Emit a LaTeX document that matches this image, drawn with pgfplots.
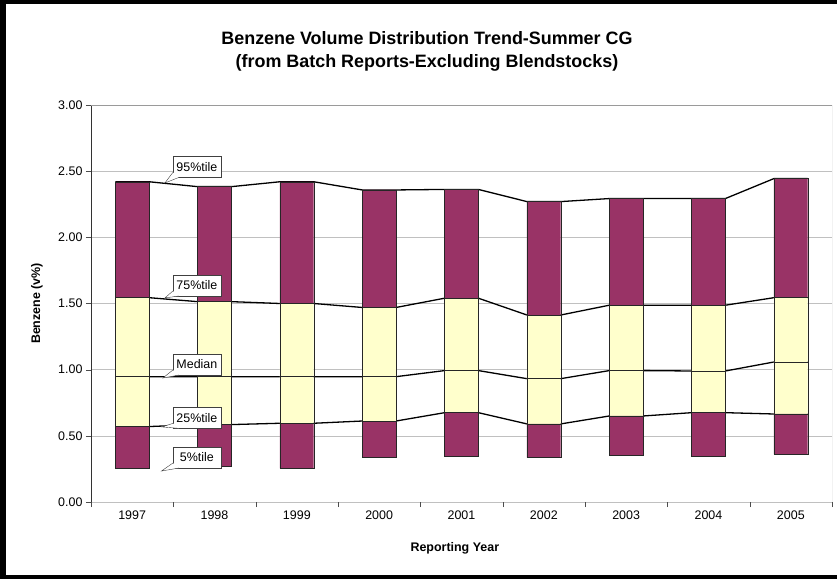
\documentclass[border=0pt]{standalone}
\usepackage{pgfplots}
\pgfplotsset{compat=1.18}
\usepackage{pgfplotstable}
\usepackage{fontspec}
\setmainfont{Liberation Sans}
\definecolor{plum}{HTML}{993366}
\definecolor{cream}{HTML}{FFFFCC}
\definecolor{gridgray}{HTML}{C0C0C0}

% percentiles of benzene (v%) by reporting year, x = category index
\pgfplotstableread{
x year p5 p25 med p75 p95
0 1997 0.255 0.570 0.947 1.544 2.420
1 1998 0.267 0.585 0.947 1.514 2.383
2 1999 0.255 0.595 0.947 1.500 2.420
3 2000 0.338 0.612 0.947 1.470 2.358
4 2001 0.343 0.675 0.993 1.540 2.362
5 2002 0.335 0.590 0.932 1.413 2.270
6 2003 0.353 0.650 0.993 1.487 2.293
7 2004 0.343 0.675 0.990 1.487 2.293
8 2005 0.360 0.665 1.058 1.544 2.444
}\benz

\tikzset{callout/.style={draw=black!75, fill=white, minimum width=48bp, minimum height=21bp,
  inner sep=1bp, font=\fontsize{12.5}{14}\selectfont}}
% callout box at coordinate #1 (box centre), tail to coordinate #2
\newcommand{\callout}[3]{%
  \node[callout] at (#1) {#3};
  \fill[white] ([xshift=-24bp,yshift=-5.5bp]#1) -- (#2) -- ([xshift=-18bp,yshift=-10.5bp]#1) -- cycle;
  \draw[black!75] ([xshift=-24bp,yshift=-5.5bp]#1) -- (#2) -- ([xshift=-18bp,yshift=-10.5bp]#1);
}

\begin{document}
\begin{tikzpicture}
\begin{axis}[
  scale only axis, width=741bp, height=397bp,
  xmin=-0.5, xmax=8.5, ymin=0, ymax=3,
  ybar stacked, bar width=0.41,
  xtick={0,...,8},
  xticklabels={1997,1998,1999,2000,2001,2002,2003,2004,2005},
  minor xtick={-0.5,0.5,...,8.5},
  ytick={0,0.5,...,3},
  xtick pos=bottom, ytick pos=left,
  yticklabel style={/pgf/number format/.cd,fixed,fixed zerofill,precision=2},
  /pgf/number format/assume math mode=true,
  tick label style={font=\fontsize{12.5}{14}\selectfont},
  tick align=outside,
  major tick length=5bp, minor tick length=5bp,
  major x tick style={draw=none},
  minor x tick style={draw=black!70},
  ytick style={draw=black!70},
  ymajorgrids, grid style={gridgray},
  axis line style={draw=none},
  title={Benzene Volume Distribution Trend-Summer CG\\(from Batch Reports-Excluding Blendstocks)},
  title style={at={(0.4534,1.1196)}, anchor=center, align=center,
    font=\bfseries\fontsize{18}{23}\selectfont},
  xlabel={Reporting Year},
  xlabel style={at={(0.491,-0.1159)}, anchor=center, font=\bfseries\fontsize{12.5}{14}\selectfont},
  ylabel={Benzene (v\%)},
  ylabel style={at={(-0.0729,0.5)}, anchor=center, font=\bfseries\fontsize{12.5}{14}\selectfont},
]
\draw[gridgray!80!black] (rel axis cs:0,1) -- (rel axis cs:1,1) -- (rel axis cs:1,0);
\draw[black!80] (rel axis cs:0,0) -- (rel axis cs:0,1);

\addplot[draw=none, fill=none] table[x=x, y=p5] {\benz};
\addplot[fill=plum, draw=black!85] table[x=x, y expr=\thisrow{p25}-\thisrow{p5}] {\benz};
\addplot[fill=cream, draw=black!85] table[x=x, y expr=\thisrow{med}-\thisrow{p25}] {\benz};
\addplot[fill=cream, draw=black!85] table[x=x, y expr=\thisrow{p75}-\thisrow{med}] {\benz};
\addplot[fill=plum, draw=black!85] table[x=x, y expr=\thisrow{p95}-\thisrow{p75}] {\benz};

% series lines, bar edge to bar edge
\addplot[sharp plot, stack plots=false, black, line width=1.3bp] coordinates {
(-0.205,2.420)(0.205,2.420)(0.795,2.383)(1.205,2.383)(1.795,2.420)(2.205,2.420)
(2.795,2.358)(3.205,2.358)(3.795,2.362)(4.205,2.362)(4.795,2.270)(5.205,2.270)
(5.795,2.293)(6.205,2.293)(6.795,2.293)(7.205,2.293)(7.795,2.444)(8.205,2.444)};
\addplot[sharp plot, stack plots=false, black, line width=1.3bp] coordinates {
(-0.205,1.544)(0.205,1.544)(0.795,1.514)(1.205,1.514)(1.795,1.500)(2.205,1.500)
(2.795,1.470)(3.205,1.470)(3.795,1.540)(4.205,1.540)(4.795,1.413)(5.205,1.413)
(5.795,1.487)(6.205,1.487)(6.795,1.487)(7.205,1.487)(7.795,1.544)(8.205,1.544)};
\addplot[sharp plot, stack plots=false, black, line width=1.3bp] coordinates {
(-0.205,0.947)(0.205,0.947)(0.795,0.947)(1.205,0.947)(1.795,0.947)(2.205,0.947)
(2.795,0.947)(3.205,0.947)(3.795,0.993)(4.205,0.993)(4.795,0.932)(5.205,0.932)
(5.795,0.993)(6.205,0.993)(6.795,0.990)(7.205,0.990)(7.795,1.058)(8.205,1.058)};
\addplot[sharp plot, stack plots=false, black, line width=1.3bp] coordinates {
(-0.205,0.570)(0.205,0.570)(0.795,0.585)(1.205,0.585)(1.795,0.595)(2.205,0.595)
(2.795,0.612)(3.205,0.612)(3.795,0.675)(4.205,0.675)(4.795,0.590)(5.205,0.590)
(5.795,0.650)(6.205,0.650)(6.795,0.675)(7.205,0.675)(7.795,0.665)(8.205,0.665)};

% callout anchors (box centre b*, tail tip t*)
\coordinate (b95) at (axis cs:0.786,2.532);  \coordinate (t95) at (axis cs:0.398,2.411);
\coordinate (b75) at (axis cs:0.786,1.636);  \coordinate (t75) at (axis cs:0.398,1.542);
\coordinate (bmd) at (axis cs:0.786,1.039);  \coordinate (tmd) at (axis cs:0.374,0.937);
\coordinate (b25) at (axis cs:0.786,0.636);  \coordinate (t25) at (axis cs:0.362,0.567);
\coordinate (b05) at (axis cs:0.786,0.336);  \coordinate (t05) at (axis cs:0.356,0.234);
\end{axis}
\callout{b95}{t95}{95\%tile}
\callout{b75}{t75}{75\%tile}
\callout{bmd}{tmd}{Median}
\callout{b25}{t25}{25\%tile}
\callout{b05}{t05}{5\%tile}
% chart frame (left, top, bottom edges)
\fill[black] (-91bp,-77bp) rectangle (-85bp,502bp);
\fill[black] (-91bp,498bp) rectangle (746bp,502bp);
\fill[black] (-91bp,-77bp) rectangle (746bp,-73bp);
\pgfresetboundingbox
\path[use as bounding box] (-91bp,-77bp) rectangle (746bp,502bp);
\end{tikzpicture}
\end{document}
